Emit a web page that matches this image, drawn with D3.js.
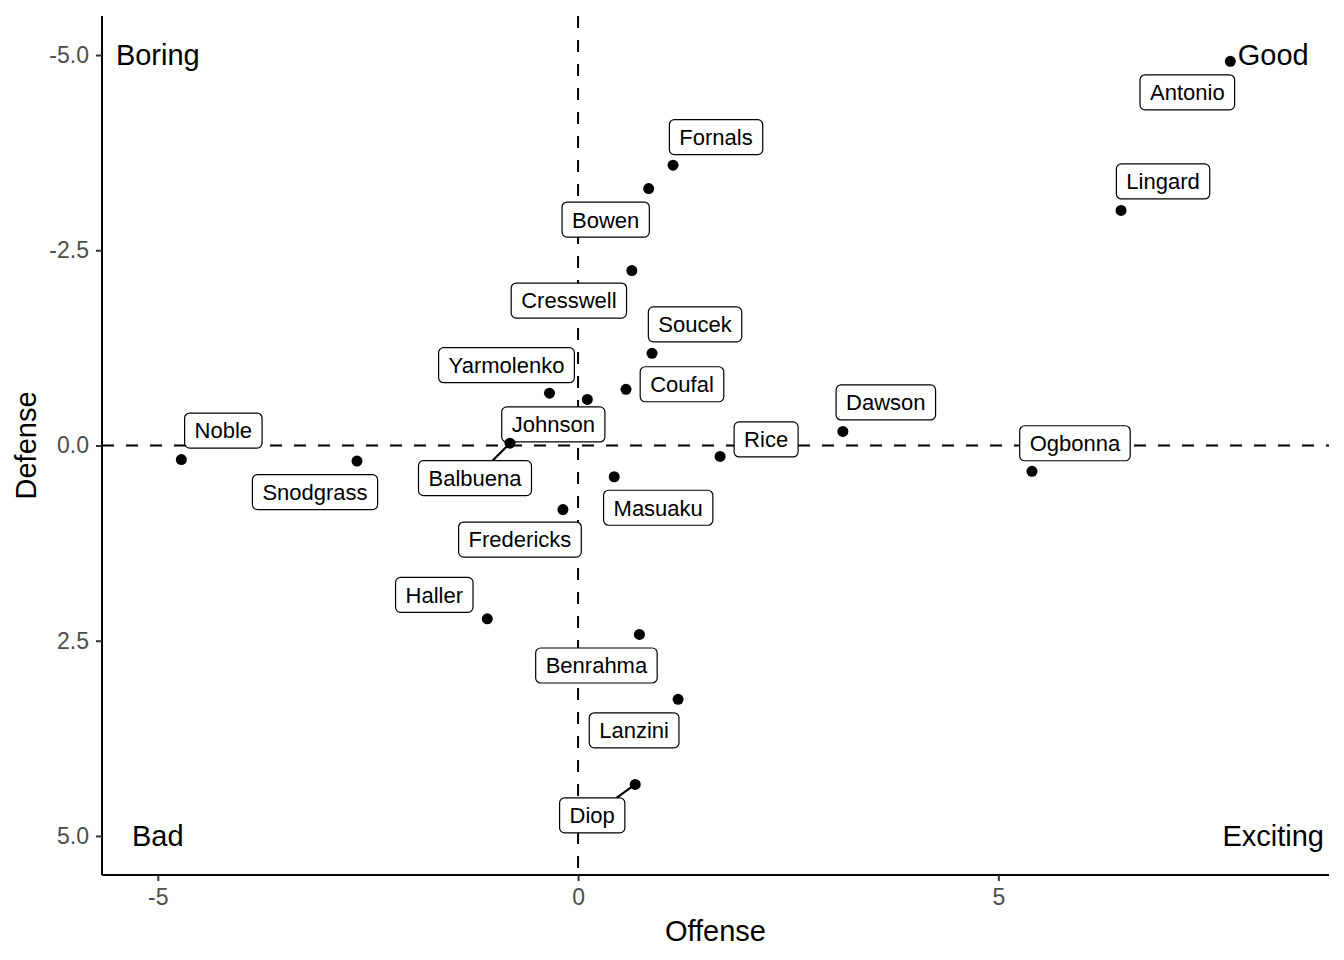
<!DOCTYPE html>
<html>
<head>
<meta charset="utf-8">
<script src="https://cdn.jsdelivr.net/npm/d3@7"></script>
<style>
  body { margin: 0; background: #fff; }
  svg { font-family: "Liberation Sans", Arial, Helvetica, sans-serif; }
</style>
</head>
<body>
<div id="chart"></div>
<script>
// dados
const players = ["Antonio", "Fornals", "Lingard", "Bowen", "Cresswell", "Soucek",
  "Yarmolenko", "Coufal", "Dawson", "Johnson", "Rice", "Ogbonna", "Noble",
  "Snodgrass", "Balbuena", "Masuaku", "Fredericks", "Haller", "Benrahma",
  "Lanzini", "Diop"];
const offense = [7.76, 1.13, 6.46, 0.84, 0.64, 0.88, -0.34, 0.57, 3.15, 0.11,
  1.69, 5.40, -4.72, -2.63, -0.81, 0.43, -0.18, -1.08, 0.73, 1.19, 0.68];
const defense = [-4.92, -3.59, -3.01, -3.29, -2.24, -1.18, -0.67, -0.72, -0.18,
  -0.59, 0.14, 0.33, 0.18, 0.20, -0.03, 0.40, 0.82, 2.22, 2.42, 3.25, 4.34];

// deslocamento dos rótulos (px), estilo ggrepel
const labelDx = [-43, 43, 42, -43, -63, 43, -43, 56, 43, -34, 46, 43, 42, -42,
  -35, 44, -43, -53, -43, -44, -43];
const labelDy = [31, -28, -29, 31, 30, -29, -28, -5, -29, 25, -17, -28, -29, 31,
  35, 31, 30, -24, 31, 31, 31];
// rótulos que ficaram longe do ponto e ganham segmento
const withSegment = ["Balbuena", "Diop"];

// anotações dos quadrantes
const quadText = ["Boring", "Good", "Bad", "Exciting"];
const quadX = [-5, 8.27, -5, 8.27];
const quadY = [-5, -5, 5, 5];

const xTicks = [-5, 0, 5];
const yTicks = [-5, -2.5, 0, 2.5, 5];

const width = 1344;
const height = 960;
const margin = { top: 16, right: 15, bottom: 85, left: 102 };

const svg = d3.select("#chart").append("svg")
  .attr("width", width)
  .attr("height", height);

const x = d3.scaleLinear().domain([-5.664, 8.934])
  .range([margin.left, width - margin.right]);
const y = d3.scaleLinear().domain([-5.5, 5.5])
  .range([margin.top, height - margin.bottom]);

// linhas de referência
svg.append("line")
  .attr("x1", x(0)).attr("x2", x(0))
  .attr("y1", margin.top).attr("y2", height - margin.bottom)
  .attr("stroke", "#000").attr("stroke-width", 2)
  .attr("stroke-dasharray", "12,12");
svg.append("line")
  .attr("x1", margin.left).attr("x2", width - margin.right)
  .attr("y1", y(0)).attr("y2", y(0))
  .attr("stroke", "#000").attr("stroke-width", 2)
  .attr("stroke-dasharray", "12,12");

// hífen simples no lugar do sinal de menos
const fmtX = (d) => d3.format("d")(d).replace("\u2212", "-");
const fmtY = (d) => d3.format(".1f")(d).replace("\u2212", "-");

// eixos
const xAxis = svg.append("g")
  .attr("transform", `translate(0,${height - margin.bottom})`)
  .call(d3.axisBottom(x).tickValues(xTicks).tickSize(6).tickPadding(8)
    .tickFormat(fmtX));
const yAxis = svg.append("g")
  .attr("transform", `translate(${margin.left},0)`)
  .call(d3.axisLeft(y).tickValues(yTicks).tickSize(6).tickPadding(7)
    .tickFormat(fmtY));

[xAxis, yAxis].forEach((g) => {
  g.select(".domain").attr("stroke", "#000").attr("stroke-width", 2);
  g.selectAll(".tick line").attr("stroke", "#333").attr("stroke-width", 2);
  g.selectAll(".tick text").attr("fill", "#4d4d4d").attr("font-size", "23px")
    .attr("font-family", "Liberation Sans, Arial, sans-serif");
});
// domínio em toda a extensão do painel
xAxis.select(".domain").attr("d", `M${margin.left},0H${width - margin.right}`);
yAxis.select(".domain").attr("d", `M0,${margin.top}V${height - margin.bottom}`);

svg.append("text")
  .attr("x", (margin.left + width - margin.right) / 2)
  .attr("y", 941)
  .attr("text-anchor", "middle")
  .attr("font-size", "29px")
  .text("Offense");
svg.append("text")
  .attr("transform", `translate(36,${y(0)}) rotate(-90)`)
  .attr("text-anchor", "middle")
  .attr("font-size", "29px")
  .text("Defense");

// anotações
svg.selectAll(".quad")
  .data(quadText)
  .join("text")
  .attr("class", "quad")
  .attr("x", (d, i) => x(quadX[i]))
  .attr("y", (d, i) => y(quadY[i]))
  .attr("dy", "0.35em")
  .attr("text-anchor", "middle")
  .attr("font-size", "29px")
  .text((d) => d);

// dados combinados
const data = players.map((p, i) => ({
  name: p,
  px: x(offense[i]),
  py: y(defense[i]),
  lx: x(offense[i]) + labelDx[i],
  ly: y(defense[i]) + labelDy[i],
}));

const segs = svg.append("g");
const labels = svg.append("g");

const boxH = 35;
labels.selectAll("g.lab")
  .data(data)
  .join("g")
  .attr("class", "lab")
  .each(function (d) {
    const g = d3.select(this);
    const t = g.append("text")
      .attr("x", d.lx)
      .attr("y", d.ly)
      .attr("dy", "0.36em")
      .attr("text-anchor", "middle")
      .attr("font-size", "22px")
      .text(d.name);
    const w = t.node().getComputedTextLength() + 20;
    d.hw = w / 2;
    g.insert("rect", "text")
      .attr("x", d.lx - w / 2)
      .attr("y", d.ly - boxH / 2)
      .attr("width", w)
      .attr("height", boxH)
      .attr("rx", 5)
      .attr("fill", "#fff")
      .attr("stroke", "#000")
      .attr("stroke-width", 1.2);
  });

// segmento do ponto até a borda da caixa, na direção do centro do rótulo
data.filter((d) => withSegment.includes(d.name)).forEach((d) => {
  const vx = d.lx - d.px;
  const vy = d.ly - d.py;
  const tx = Math.abs(vx) > 0 ? (Math.abs(vx) - d.hw) / Math.abs(vx) : 1;
  const ty = Math.abs(vy) > 0 ? (Math.abs(vy) - boxH / 2) / Math.abs(vy) : 1;
  const t = Math.max(tx, ty);
  segs.append("line")
    .attr("x1", d.px).attr("y1", d.py)
    .attr("x2", d.px + vx * t).attr("y2", d.py + vy * t)
    .attr("stroke", "#000").attr("stroke-width", 2.2);
});

// pontos
svg.append("g")
  .selectAll("circle")
  .data(data)
  .join("circle")
  .attr("cx", (d) => d.px)
  .attr("cy", (d) => d.py)
  .attr("r", 5.5)
  .attr("fill", "#000");
</script>
</body>
</html>
